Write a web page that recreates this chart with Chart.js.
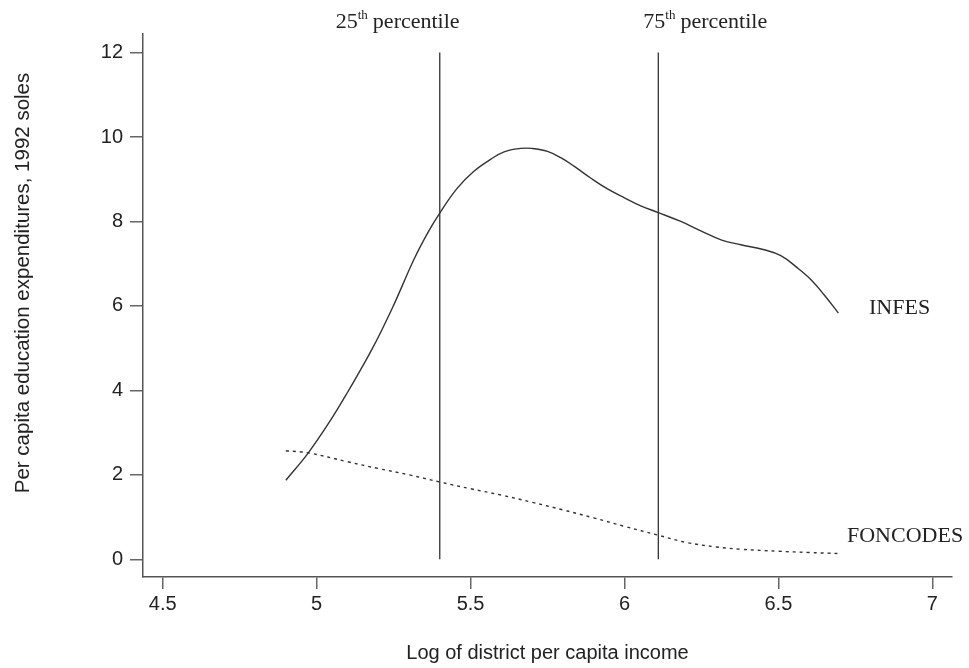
<!DOCTYPE html>
<html>
<head>
<meta charset="utf-8">
<script src="https://cdn.jsdelivr.net/npm/chart.js@4/dist/chart.umd.min.js"></script>
<style>
  body { margin: 0; background: #fff; }
  #wrap { width: 969px; height: 668px; }
</style>
</head>
<body>
<div id="wrap"><canvas id="myChart" width="969" height="668"></canvas></div>
<script>
// smoothed curves
const infesX = [4.9, 4.973, 5.046, 5.1, 5.18, 5.246, 5.316, 5.36, 5.4, 5.457, 5.511, 5.565, 5.609, 5.663, 5.7, 5.75, 5.793, 5.836, 5.89, 5.945, 6.0, 6.053, 6.11, 6.183, 6.248, 6.316, 6.378, 6.454, 6.508, 6.562, 6.606, 6.649, 6.695]
const infesY = [1.87, 2.52, 3.3, 3.95, 4.975, 5.95, 7.1, 7.72, 8.2, 8.79, 9.19, 9.47, 9.65, 9.73, 9.73, 9.66, 9.51, 9.31, 9.03, 8.77, 8.56, 8.37, 8.21, 8.0, 7.78, 7.56, 7.45, 7.33, 7.19, 6.9, 6.62, 6.26, 5.83]

const foncX = [4.9, 4.973, 5.1, 5.2, 5.3, 5.4, 5.5, 5.6, 5.7, 5.8, 5.9, 6.0, 6.11, 6.2, 6.3, 6.378, 6.5, 6.6, 6.697]
const foncY = [2.57, 2.52, 2.31, 2.15, 2.0, 1.83, 1.67, 1.52, 1.35, 1.17, 0.98, 0.78, 0.57, 0.4, 0.29, 0.237, 0.19, 0.16, 0.135]

const pctX = [5.4, 6.11]
const pctNames = ['25', '75']
const pctY = [0, 12]

const xTicks = [4.5, 5, 5.5, 6, 6.5, 7]
const yTicks = [0, 2, 4, 6, 8, 10, 12]

const xTitle = 'Log of district per capita income'
const yTitle = 'Per capita education expenditures, 1992 soles'

function pts(xs, ys) {
    return xs.map(function(x, i) { return { x: x, y: ys[i] } })
}

const sans = '"Liberation Sans", Arial, Helvetica, sans-serif'
const serif = '"Liberation Serif", "Times New Roman", serif'

const textPlugin = {
    id: 'texts',
    afterDraw: function(chart) {
        const ctx = chart.ctx
        const xs = chart.scales.x
        const ys = chart.scales.y
        ctx.save()
        ctx.fillStyle = '#222'

        // axis titles
        ctx.font = '20px ' + sans
        ctx.textAlign = 'center'
        ctx.textBaseline = 'middle'
        ctx.fillText(xTitle, (chart.chartArea.left + chart.chartArea.right) / 2, 653)
        ctx.save()
        ctx.translate(23, 283)
        ctx.rotate(-Math.PI / 2)
        ctx.font = '20.5px ' + sans
        ctx.fillText(yTitle, 0, 0)
        ctx.restore()

        // percentile labels
        ctx.textAlign = 'left'
        ctx.textBaseline = 'alphabetic'
        const offsets = [-104, -15]
        pctX.forEach(function(v, i) {
            let x = xs.getPixelForValue(v) + offsets[i]
            ctx.font = '22px ' + serif
            ctx.fillText(pctNames[i], x, 28)
            x += ctx.measureText(pctNames[i]).width
            ctx.font = '13px ' + serif
            ctx.fillText('th', x, 19)
            x += ctx.measureText('th').width + 5
            ctx.font = '22px ' + serif
            ctx.fillText('percentile', x, 28)
        })

        // series labels
        ctx.font = '22px ' + serif
        ctx.fillText('INFES', 869, ys.getPixelForValue(6) + 8)
        ctx.fillText('FONCODES', 847, ys.getPixelForValue(0.6) + 8)
        ctx.restore()
    }
}

const ctx = document.getElementById('myChart').getContext('2d')
const myChart = new Chart(ctx, {
    type: 'line',
    data: {
        datasets: [{
            label: 'INFES',
            data: pts(infesX, infesY),
            borderColor: '#333',
            borderWidth: 1.4,
            pointRadius: 0,
            tension: 0.4
        }, {
            label: 'FONCODES',
            data: pts(foncX, foncY),
            borderColor: '#333',
            borderWidth: 1.4,
            borderDash: [3, 4],
            pointRadius: 0,
            tension: 0.4
        }, {
            label: '25th',
            data: pts([pctX[0], pctX[0]], pctY),
            borderColor: '#333',
            borderWidth: 1.3,
            pointRadius: 0,
            tension: 0
        }, {
            label: '75th',
            data: pts([pctX[1], pctX[1]], pctY),
            borderColor: '#333',
            borderWidth: 1.3,
            pointRadius: 0,
            tension: 0
        }]
    },
    options: {
        responsive: false,
        animation: false,
        layout: { padding: { top: 34, right: 17, left: 0, bottom: 0 } },
        plugins: {
            legend: { display: false },
            tooltip: { enabled: false }
        },
        scales: {
            x: {
                type: 'linear',
                min: 4.436,
                max: 7.064,
                afterBuildTicks: function(s) { s.ticks = xTicks.map(function(v) { return { value: v } }) },
                afterFit: function(s) { s.height = 91 },
                ticks: {
                    autoSkip: false,
                    maxRotation: 0,
                    padding: 3,
                    color: '#222',
                    font: { family: sans, size: 20 },
                    callback: function(v) { return String(v) }
                },
                grid: { drawOnChartArea: false, tickLength: 12, color: '#666', lineWidth: 1.5 },
                border: { color: '#555', width: 1.5 }
            },
            y: {
                min: -0.42,
                max: 12.44,
                afterBuildTicks: function(s) { s.ticks = yTicks.map(function(v) { return { value: v } }) },
                afterFit: function(s) { s.width = 143 },
                ticks: {
                    padding: 7,
                    color: '#222',
                    font: { family: sans, size: 20 },
                    callback: function(v) { return String(v) }
                },
                grid: { drawOnChartArea: false, tickLength: 13, color: '#666', lineWidth: 1.5 },
                border: { color: '#555', width: 1.5 }
            }
        }
    },
    plugins: [textPlugin]
})
</script>
</body>
</html>
